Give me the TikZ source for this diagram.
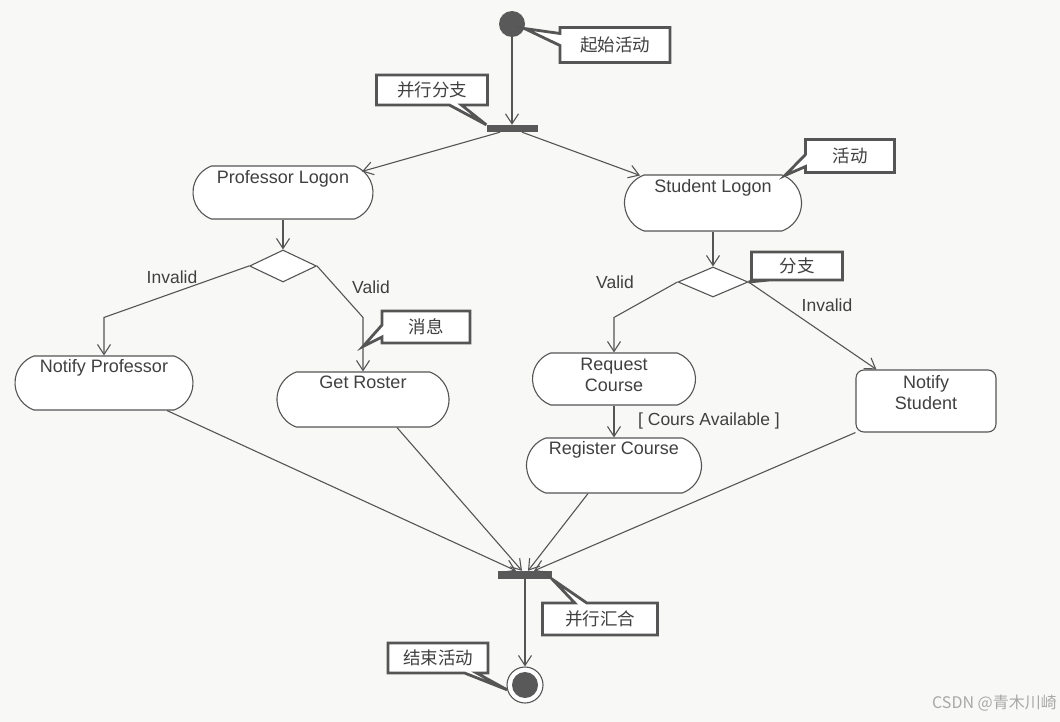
\documentclass[tikz,border=0pt]{standalone}
\usepackage{fontspec}
\setmainfont{Liberation Sans}
\newfontfamily\cjk{Noto Sans CJK SC}
\usetikzlibrary{shapes.misc,shapes.geometric,shapes.callouts,arrows.meta,calc}
\definecolor{bgc}{HTML}{F8F8F6}
\definecolor{ink}{HTML}{555555}
\definecolor{txt}{HTML}{404040}
\definecolor{darkfill}{HTML}{595959}
\definecolor{wm}{HTML}{A8A8A8}
\tikzset{
 line/.style={draw=ink, line width=1.1pt},
 arr/.style={line, -{Straight Barb[length=10pt,width=13pt,line width=1.1pt]}},
 activity/.style={rounded rectangle, rounded rectangle arc length=140, draw=ink, line width=1.1pt, fill=white, inner sep=0pt},
 boxact/.style={rectangle, rounded corners=8pt, draw=ink, line width=1.1pt, fill=white, inner sep=0pt},
 acttext/.style={anchor=north, inner sep=0pt, text=txt, font=\fontsize{18}{21}\selectfont, align=center},
 decision/.style={diamond, draw=ink, line width=1.1pt, fill=white, inner sep=0pt},
 bar/.style={rectangle, fill=darkfill, inner sep=0pt},
 guard/.style={text=txt, font=\fontsize{17.5}{20}\selectfont, inner sep=0pt},
 note/.style={rectangle callout, draw=ink, line width=2.8pt, fill=white, text=txt, font=\cjk\fontsize{17.5}{20}\selectfont, inner sep=0pt, callout pointer width=12pt},
}
\begin{document}
\begin{tikzpicture}[x=1pt,y=-1pt]
\useasboundingbox (0,0) rectangle (1060,722);
\fill[bgc] (0,0) rectangle (1060,722);

% start / fork / join / end
\node[circle, fill=darkfill, minimum size=26pt, inner sep=0pt] (start) at (512,24) {};
\node[bar, minimum width=51pt, minimum height=7pt] (fork) at (512,128.5) {};
\node[bar, minimum width=54pt, minimum height=8pt] (join) at (525,575) {};
\node[circle, draw=ink, line width=1.1pt, fill=white, minimum size=36pt, inner sep=0pt] (end) at (525,685) {};
\node[circle, fill=darkfill, minimum size=26pt, inner sep=0pt] (endin) at (end.center) {};

% activities
\node[activity, minimum width=180pt, minimum height=53pt] (PL) at (283,192.5) {};
\node[acttext] (PLt) at ([yshift=-5pt]PL.north) {Professor Logon};
\node[activity, minimum width=177pt, minimum height=56pt] (SL) at (713,203) {};
\node[acttext] (SLt) at ([yshift=-5pt]SL.north) {Student Logon};
\node[activity, minimum width=178pt, minimum height=54pt] (NP) at (104,383) {};
\node[acttext] (NPt) at ([yshift=-4pt]NP.north) {Notify Professor};
\node[activity, minimum width=172pt, minimum height=55pt] (GR) at (363,399.5) {};
\node[acttext] (GRt) at ([yshift=-4pt]GR.north) {Get Roster};
\node[activity, minimum width=163pt, minimum height=52pt] (RC) at (614,379) {};
\node[acttext] (RCt) at ([yshift=-5pt]RC.north) {Request\\Course};
\node[activity, minimum width=175pt, minimum height=55pt] (RG) at (614,465.5) {};
\node[acttext] (RGt) at ([yshift=-4pt]RG.north) {Register Course};
\node[boxact, minimum width=140pt, minimum height=62pt] (NS) at (926,401) {};
\node[acttext] (NSt) at ([yshift=-6pt]NS.north) {Notify\\Student};

% decisions
\node[decision, minimum width=67pt, minimum height=32pt] (D1) at (283,266) {};
\node[decision, minimum width=70pt, minimum height=30pt] (D2) at (713,282) {};

% connectors
\draw[arr] (start) -- (fork);
\draw[arr] ($(fork.south)+(-12,0)$) -- ($(PL.north)+(79,6)$);
\draw[arr] ($(fork.south)+(10,0)$) -- ($(SL.north)+(-73,1)$);
\draw[arr] (PL) -- (D1);
\draw[arr] (D1.west) -- ([yshift=38pt]NP.north) -- (NP.north);
\draw[arr] (D1.east) -- ([yshift=54pt]GR.north) -- (GR.north);
\draw[arr] (SL) -- (D2);
\draw[arr] (D2.west) -- ([yshift=35pt]RC.north) -- (RC.north);
\draw[arr] (D2.east) -- ($(NS.north west)+(21,0)$);
\draw[arr] (RC) -- (RG);
\draw[arr] ($(NP.south)+(63,0)$) -- ($(join.north)+(-9,0)$);
\draw[arr] ($(GR.south)+(34,0)$) -- ($(join.north)+(-3,0)$);
\draw[arr] ($(RG.south)+(-26,0)$) -- ($(join.north)+(3,0)$);
\draw[arr] (NS.south west) -- ($(join.north)+(9,0)$);
\draw[arr] (join) -- (end);
\coordinate (gtip) at ($(GR.north)+(0,-25)$);

% guards
\node[guard] (l1) at (172,277) {Invalid};
\node[guard] (l2) at (371,287) {Valid};
\node[guard] (l3) at (615,282) {Valid};
\node[guard] (l4) at (827,305) {Invalid};
\node[guard] (l5) at (709,421) {[ Cours Available ]};

% notes
\node[note, minimum width=110pt, minimum height=35pt, callout absolute pointer={(start.-20)}] (n1) at (615,45) {起始活动};
\node[note, minimum width=111pt, minimum height=30pt, callout absolute pointer={(fork.north west)}] (n2) at (432,90) {并行分支};
\node[note, minimum width=89pt, minimum height=33pt, callout absolute pointer={($(SL.north)+(72,1)$)}] (n3) at (850,156) {活动};
\node[note, minimum width=88pt, minimum height=32pt, callout absolute pointer={(gtip)}] (n4) at (426,327) {消息};
\node[note, minimum width=91pt, minimum height=28pt, callout absolute pointer={(D2.east)}] (n5) at (797,266) {分支};
\node[note, minimum width=115pt, minimum height=32pt, callout absolute pointer={(join.south east)}] (n6) at (600,619) {并行汇合};
\node[note, minimum width=100pt, minimum height=30pt, callout absolute pointer={(end.195)}] (n7) at (438,658) {结束活动};

% watermark
\node[text=wm, font=\cjk\fontsize{16}{18}\selectfont, anchor=east, inner sep=0pt] (wmk) at (1057,703) {CSDN @青木川崎};
\end{tikzpicture}
\end{document}
